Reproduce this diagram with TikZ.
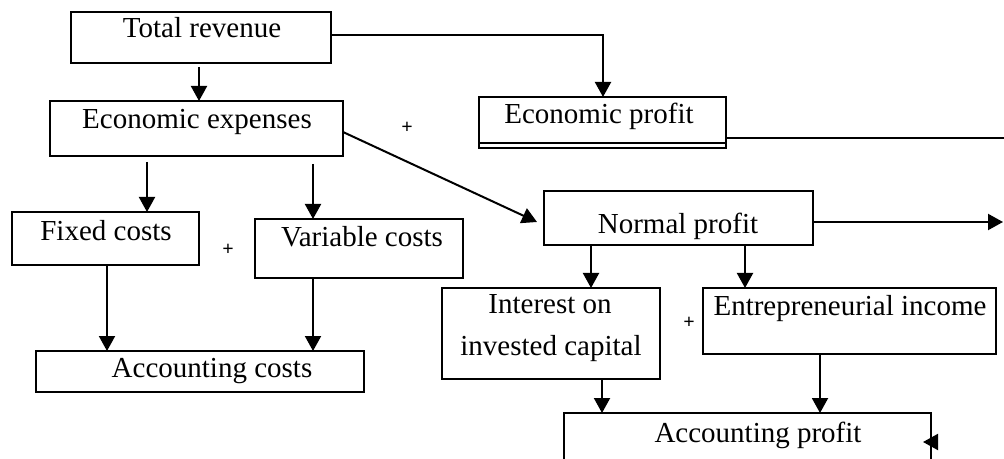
\documentclass[tikz,border=0pt]{standalone}
\usepackage{fontspec}
\setmainfont{Liberation Serif}
\usetikzlibrary{arrows.meta,calc}
\begin{document}
\begin{tikzpicture}[x=0.5pt,y=-0.5pt,
  box/.style={draw,line width=0.7pt,inner sep=0pt,outer sep=0pt,rectangle},
  txt/.style={inner sep=0pt,anchor=base,font=\fontsize{14.5}{17}\selectfont},
  plus/.style={inner sep=0pt,font=\fontsize{10}{11}\selectfont\bfseries},
  arr/.style={line width=1pt,-{Triangle[length=7.5pt,width=8pt]}},
  ln/.style={line width=1pt}]
\useasboundingbox (0,0) rectangle (1004,459);
\clip (0,0) rectangle (1004,459);
% boxes
\node[box,minimum width=130pt,minimum height=25.5pt] (tr) at (201,37.5) {};
\node[box,minimum width=146.5pt,minimum height=27.5pt] (ee) at (196.5,128.5) {};
\node[box,minimum width=123.5pt,minimum height=25.5pt] (ep) at (602.5,122.5) {};
\node[box,minimum width=93.5pt,minimum height=26.5pt] (fc) at (105.5,238.5) {};
\node[box,minimum width=104pt,minimum height=29.5pt] (vc) at (359,248.5) {};
\node[box,minimum width=134.5pt,minimum height=27pt] (np) at (678.5,218) {};
\node[box,minimum width=109pt,minimum height=45.5pt] (ic) at (551,333.5) {};
\node[box,minimum width=146.5pt,minimum height=33pt] (ei) at (849.5,321) {};
\node[box,minimum width=164pt,minimum height=20.5pt] (ac) at (200,371.5) {};
\node[box,minimum width=183.5pt,minimum height=33.5pt] (ap) at (747.5,446.5) {};
% double bottom of economic profit
\draw[line width=0.7pt] ($(ep.south west)+(0,-5)$) -- ($(ep.south east)+(0,-5)$);
% texts
\node[txt] (t1) at (202,38) {Total revenue};
\node[txt] (t2) at (197,129) {Economic expenses};
\node[txt] (t3) at (599,124) {Economic profit};
\node[txt] (t4) at (106,241) {Fixed costs};
\node[txt] (t5) at (362,247) {Variable costs};
\node[txt] (t6) at (678,234) {Normal profit};
\node[txt] (t7) at (550,314) {Interest on};
\node[txt] (t8) at (551,355) {invested capital};
\node[txt] (t9) at (850,315) {Entrepreneurial income};
\node[txt] (t10) at (212,377) {Accounting costs};
\node[txt] (t11) at (758,442) {Accounting profit};
% plus signs
\node[plus] (p1) at (407,128) {+};
\node[plus] (p2) at (228,250) {+};
\node[plus] (p3) at (689,323) {+};
% free ends
\coordinate (r1) at (1004,138);
\coordinate (r2) at (1003,222);
% connectors
\draw[arr] ($(tr.south)+(-2,4)$) -- ($(ee.north)+(2.5,0)$);
\draw[arr] ($(tr.east)+(0,-2.5)$) -| ($(ep.north)+(0.5,0)$);
\draw[arr] ($(ee.east)+(0,3.5)$) -- ($(np.west)+(-7,4)$);
\draw[arr] ($(ee.south)+(-49.5,6)$) -- ($(fc.north)+(41.5,0)$);
\draw[arr] ($(ee.south)+(116.5,8)$) -- ($(vc.north)+(-46,0)$);
\draw[arr] ($(fc.south)+(1.5,0)$) -- ($(ac.north)+(-93,0)$);
\draw[arr] ($(vc.south)+(-46,0)$) -- ($(ac.north)+(113,0)$);
\draw[arr] ($(np.south)+(-87.5,0)$) -- ($(ic.north)+(40,0)$);
\draw[arr] ($(np.south)+(66.5,0)$) -- ($(ei.north)+(-104.5,0)$);
\draw[arr] ($(np.east)+(0,4)$) -- (r2);
\draw[ln] ($(ep.east)+(0,15.5)$) -- (r1);
\draw[arr] ($(ic.south)+(51,0)$) -- ($(ap.north)+(-145.5,0)$);
\draw[arr] ($(ei.south)+(-29.5,0)$) -- ($(ap.north)+(72.5,0)$);
\draw[arr] ($(ap.east)+(6,-4.5)$) -- ($(ap.east)+(-8,-4.5)$);
\end{tikzpicture}
\end{document}
